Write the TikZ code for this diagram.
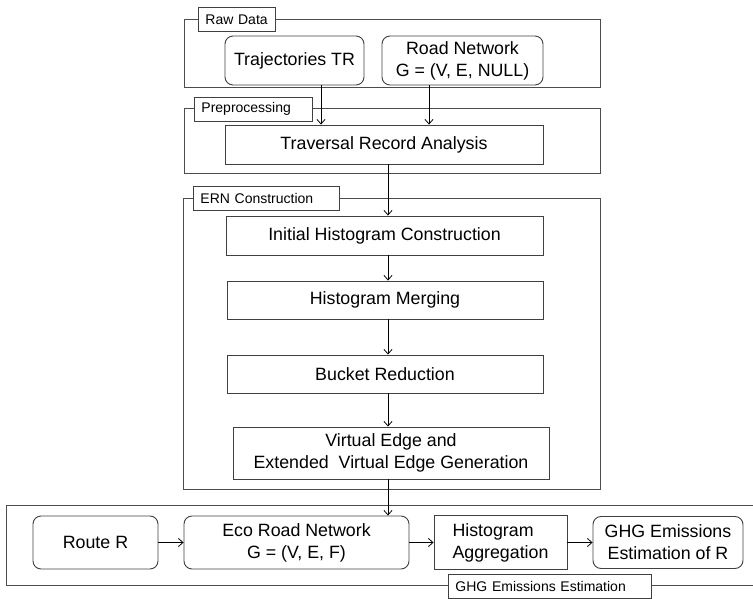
\documentclass[tikz,border=0pt]{standalone}
\usepackage{fontspec}
\setmainfont{Liberation Sans}
\usepackage{tikz}
\usetikzlibrary{arrows.meta,positioning,calc}

\begin{document}
\begin{tikzpicture}[x=1pt,y=-1pt,>={Straight Barb[length=4.5pt,width=8pt]},
  box/.style={draw=black!75,line width=0.9pt,align=center,inner sep=0pt,
    font=\fontsize{17.8}{22}\selectfont},
  rbox/.style={box,rounded corners=8pt},
  frame/.style={draw=black!70,line width=1pt},
  tag/.style={draw=black!75,fill=white,line width=0.9pt,anchor=west,align=left,
    minimum height=24pt,inner xsep=7pt,inner ysep=0pt,
    font=\fontsize{14}{17}\selectfont},
  flow/.style={->,line width=0.8pt}]
  \useasboundingbox (0,0) rectangle (753,599);
  \draw[frame] (184,20) rectangle (600,88);
  \draw[frame] (184,109) rectangle (600,174);
  \draw[frame] (183,199) rectangle (600,489);
  \draw[frame] (6,505) rectangle (760,585);
  \node[tag,text width=63pt] (rawtag) at (198,19.5) {Raw Data};
  \node[tag,text width=104pt] (pretag) at (194,109) {Preprocessing};
  \node[tag,text width=132pt] (erntag) at (193,198) {ERN Construction};
  \node[tag,text width=189pt] (ghgtag) at (448,586) {GHG Emissions Estimation};
  \node[rbox,minimum width=139pt,minimum height=49pt] (traj) at (294.5,60.5)
    {Trajectories TR};
  \node[rbox,minimum width=161pt,minimum height=49pt] (road) at (462.5,60.5)
    {Road Network\\G = (V, E, NULL)};
  \node[box,minimum width=318pt,minimum height=39pt] (trav) at (384,144.5)
    {Traversal Record Analysis};
  \node[box,minimum width=317pt,minimum height=39pt] (init) at (384.5,235.5)
    {Initial Histogram Construction};
  \node[box,minimum width=316pt,minimum height=38pt] (merge) at (385,300)
    {Histogram Merging};
  \node[box,minimum width=316pt,minimum height=38pt] (bucket) at (385,374)
    {Bucket Reduction};
  \node[box,minimum width=316pt,minimum height=52pt] (virt) at (391,453)
    {Virtual Edge and\\Extended\ \ Virtual Edge Generation};
  \node[rbox,minimum width=125pt,minimum height=53pt] (route) at (95.5,542.5)
    {Route R};
  \node[rbox,minimum width=225pt,minimum height=53pt] (eco) at (296.5,542.5)
    {Eco Road Network\\G = (V, E, F)};
  \node[box,align=left,minimum width=133pt,minimum height=54pt] (agg) at (500.5,542.5)
    {Histogram\\Aggregation};
  \node[rbox,minimum width=150pt,minimum height=52pt] (est) at (668,542.5)
    {GHG Emissions\\Estimation of R};
  \coordinate (trajx) at (321,0);
  \coordinate (roadx) at (429,0);
  \coordinate (spine) at (388,0);
  \draw[flow] (traj.south -| trajx) -- (trav.north -| trajx);
  \draw[flow] (road.south -| roadx) -- (trav.north -| roadx);
  \draw[flow] (trav.south -| spine) -- (init.north -| spine);
  \draw[flow] (init.south -| spine) -- (merge.north -| spine);
  \draw[flow] (merge.south -| spine) -- (bucket.north -| spine);
  \draw[flow] (bucket.south -| spine) -- (virt.north -| spine);
  \draw[flow] (virt.south -| spine) -- (eco.north -| spine);
  \draw[flow] (route) -- (eco);
  \draw[flow] (eco) -- (agg);
  \draw[flow] (agg) -- (est);
\end{tikzpicture}
\end{document}
